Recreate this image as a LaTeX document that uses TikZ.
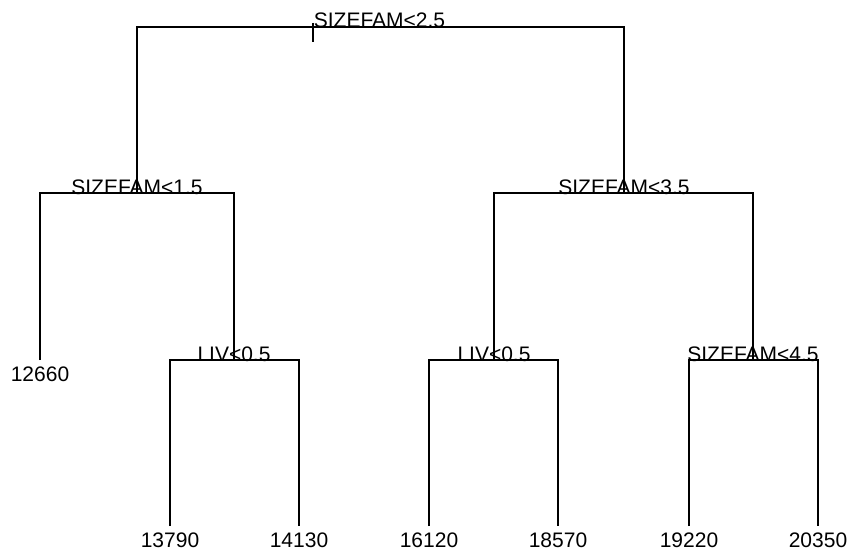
\documentclass[tikz,border=0pt]{standalone}
\usepackage{fontspec}
\setmainfont{Liberation Sans}
\begin{document}
\begin{tikzpicture}[x=1pt,y=-1pt,
  branch/.style={draw=black,line width=1.3pt},
  lbl/.style={anchor=base,inner sep=0pt,font=\fontsize{21}{25}\selectfont}]
\useasboundingbox (0,0) rectangle (849,551);
% split points (where each node's horizontal bar sits)
\coordinate (n0) at (313,27);
\coordinate (n1) at (137,193);
\coordinate (n2) at (624,193);
\coordinate (n3) at (234,360);
\coordinate (n4) at (494,360);
\coordinate (n5) at (753,360);
% leaf ends
\coordinate (l1) at (40,360);
\coordinate (l2) at (170,526);
\coordinate (l3) at (299,526);
\coordinate (l4) at (429,526);
\coordinate (l5) at (558,526);
\coordinate (l6) at (689,526);
\coordinate (l7) at (818,526);
% root stub
\coordinate (t0) at (313,23);
\coordinate (t1) at (313,42);
\draw[branch] (t0) -- (t1);
% branches
\draw[branch] (n1) |- (n0) -| (n2);
\draw[branch] (l1) |- (n1) -| (n3);
\draw[branch] (n4) |- (n2) -| (n5);
\draw[branch] (l2) |- (n3) -| (l3);
\draw[branch] (l4) |- (n4) -| (l5);
\draw[branch] (l6) |- (n5) -| (l7);
% split labels
\node[lbl] (s0) at (379.5,28) {SIZEFAM<2.5};
\node[lbl] (s1) at (137,194) {SIZEFAM<1.5};
\node[lbl] (s2) at (624,194) {SIZEFAM<3.5};
\node[lbl] (s3) at (234,361) {LIV<0.5};
\node[lbl] (s4) at (494,361) {LIV<0.5};
\node[lbl] (s5) at (753,361) {SIZEFAM<4.5};
% leaf labels
\node[lbl] (v1) at (40,381) {12660};
\node[lbl] (v2) at (170,547) {13790};
\node[lbl] (v3) at (299,547) {14130};
\node[lbl] (v4) at (429,547) {16120};
\node[lbl] (v5) at (558,547) {18570};
\node[lbl] (v6) at (689,547) {19220};
\node[lbl] (v7) at (818,547) {20350};
\end{tikzpicture}
\end{document}
